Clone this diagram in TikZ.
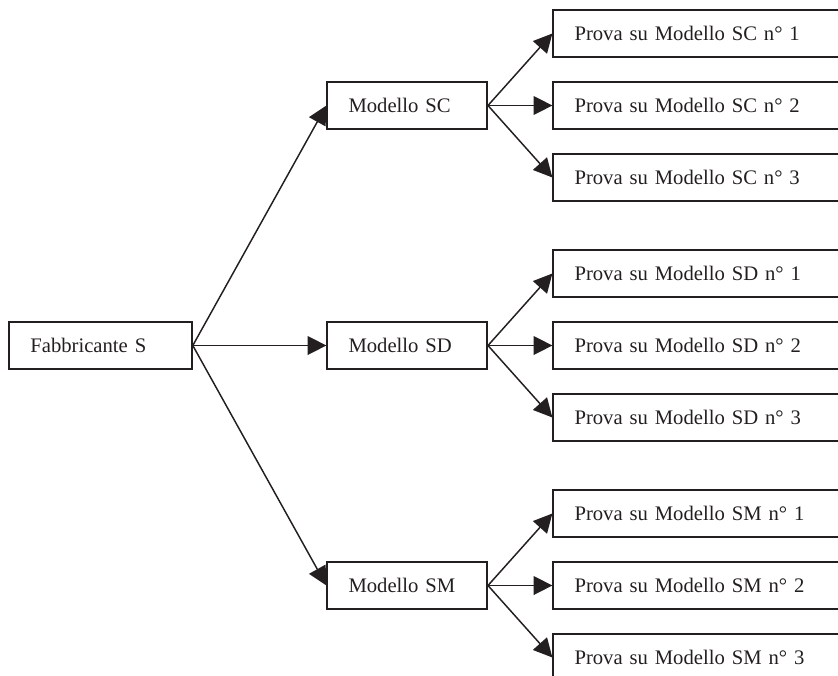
\documentclass[tikz,border=0pt]{standalone}
\usepackage{fontspec}
\setmainfont{Liberation Serif}
\usepackage{tikz}
\usetikzlibrary{arrows.meta}
\definecolor{ink}{HTML}{231F20}

\begin{document}
\begin{tikzpicture}[x=0.75pt, y=-0.75pt, grow'=right,
                      parent anchor=east, child anchor=west,
                      every node/.style = {shape=rectangle, draw=ink,
                        line width=1.2pt, align=left, text=ink,
                        minimum height=35.5pt, inner xsep=16pt,
                        font=\fontsize{15.5}{18}\selectfont},
                      edge from parent/.style = {draw=ink, line width=1.1pt,
                        -{Triangle[length=14pt,width=14pt]}},
                      level 1/.style = {level distance=230pt,
                        sibling distance=180pt, nodes={text width=88pt}},
                      level 2/.style = {level distance=222pt,
                        sibling distance=54pt, nodes={text width=193pt}}]
                      \useasboundingbox (0,0) rectangle (838,675);
                      \node (fab) [text width=105.25pt] at (100.5,345.5) {Fabbricante S}
                        child { node (sc) {Modello SC}
                            child { node (sc1) {Prova su Modello SC n° 1} }
                            child { node (sc2) {Prova su Modello SC n° 2} }
                            child { node (sc3) {Prova su Modello SC n° 3} }
                        }
                        child { node (sd) {Modello SD}
                            child { node (sd1) {Prova su Modello SD n° 1} }
                            child { node (sd2) {Prova su Modello SD n° 2} }
                            child { node (sd3) {Prova su Modello SD n° 3} }
                        }
                        child { node (sm) {Modello SM}
                            child { node (sm1) {Prova su Modello SM n° 1} }
                            child { node (sm2) {Prova su Modello SM n° 2} }
                            child { node (sm3) {Prova su Modello SM n° 3} }
                        };
                    \end{tikzpicture}
\end{document}
